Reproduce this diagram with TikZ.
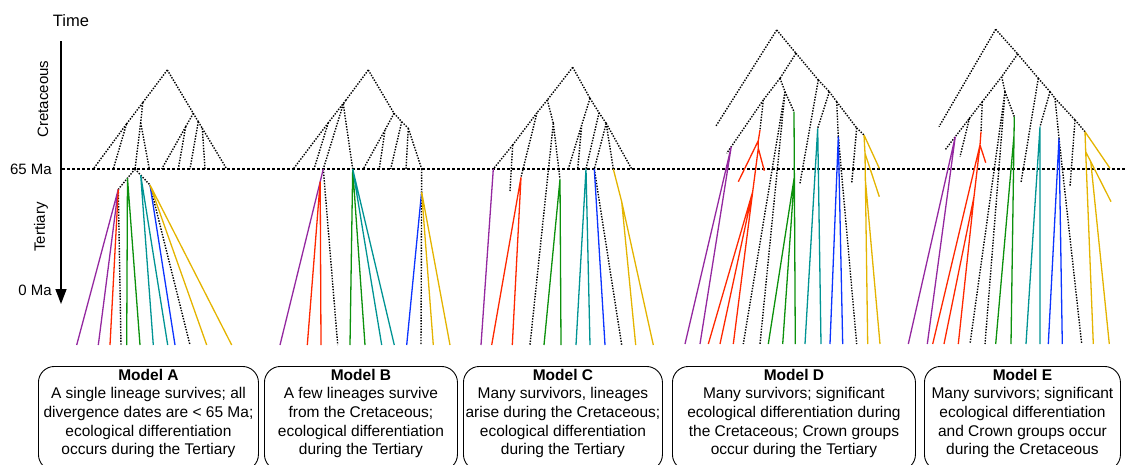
\documentclass[tikz,border=0pt]{standalone}
\usepackage{fontspec}
\setmainfont{Liberation Sans}
\usetikzlibrary{arrows.meta,calc}
\definecolor{cPur}{RGB}{148,40,160}
\definecolor{cRed}{RGB}{255,40,0}
\definecolor{cGrn}{RGB}{12,145,12}
\definecolor{cTea}{RGB}{0,148,148}
\definecolor{cBlu}{RGB}{12,52,255}
\definecolor{cYel}{RGB}{228,180,0}
\tikzset{
  lin/.style={line width=1.3pt},
  dotl/.style={line width=1.4pt, dash pattern=on 1.4pt off 1.4pt},
  pur/.style={lin, draw=cPur},
  red/.style={lin, draw=cRed},
  grn/.style={lin, draw=cGrn},
  tea/.style={lin, draw=cTea},
  blu/.style={lin, draw=cBlu},
  yel/.style={lin, draw=cYel},
  modelbox/.style={draw, line width=0.9pt, rounded corners=16pt, minimum width=#1,
    minimum height=104pt, anchor=north west, inner sep=0pt},
  modeltext/.style={align=center, font=\fontsize{15.5}{18.7}\selectfont, inner sep=0pt},
  axlabel/.style={font=\fontsize{15}{18}\selectfont, inner sep=0pt},
}
\newcommand{\pts}[1]{\foreach \n/\x/\y in {#1} {\coordinate (\n) at (\x,\y);}}
\begin{document}
\begin{tikzpicture}[x=1pt,y=-1pt]
\useasboundingbox (0,0) rectangle (1125,464);

% ---------- time axis ----------
\coordinate (axTop) at (61,41);
\coordinate (axBot) at (61,304);
\coordinate (lineL) at (62,169);
\coordinate (lineR) at (1125,169);
\draw[line width=1.5pt, -{Triangle[width=11pt,length=15pt]}] (axTop) -- (axBot);
\draw[line width=1.2pt, dash pattern=on 3pt off 2pt] (lineL) -- (lineR);
\node[axlabel, font=\fontsize{16.5}{19}\selectfont] (time) at (71,21) {Time};
\node[axlabel, rotate=90] (cret) at (43,99) {Cretaceous};
\node[axlabel, anchor=east] (ma65) at (52,169.5) {65 Ma};
\node[axlabel, rotate=90] (tert) at (41,227) {Tertiary};
\node[axlabel, anchor=east] (ma0) at (52,290) {0 Ma};

% ---------- Model A ----------
\pts{a0/167.3/70, a1/142.7/102.7, a2/193.3/113.3, a3/126.5/124, a4/140.7/122.7,
     a5/185.7/126.7, a6/198.3/121.7, a7/202.3/128.3,
     aL1/93.3/169, aL2/113.3/169, aS/135/169, aL4/149.3/169, aL5/161.7/169,
     aL6/178.3/169, aL7/190/169, aL8/205/169, aL9/226.7/169,
     aTL/118.3/189.3, aTR/150/185,
     aB1/76.7/345, aB2/98.3/345, aB3/110/345, aB4/121/345, aB5/126.7/345, aB6/140/345,
     aB7/153.3/345, aB8/167.7/345, aB9/175/345, aB10/190/345, aB11/206.7/345, aB12/231.7/345}
\coordinate (aG) at ($(aS)!0.45!(aTL)$);
\coordinate (aT) at ($(aS)!0.38!(aTR)$);
\draw[dotl] (a0)--(a1) (a0)--(a2) (a1)--(a3) (a3)--(aL1) (a3)--(aL2) (a1)--(a4)
  (a4)--(aS) (a4)--(aL4) (a2)--(a5) (a5)--(aL5) (a5)--(aL6) (a2)--(a6) (a6)--(aL7)
  (a6)--(a7) (a7)--(aL8) (a7)--(aL9)
  (aS)--(aTL) (aS)--(aTR) (aTL)--(aB4) (aTR)--(aB10);
\draw[pur] (aTL)--(aB1) (aTL)--(aB2);
\draw[red] (aTL)--(aB3);
\draw[grn] (aG)--(aB5) (aG)--(aB6);
\draw[tea] (aT)--(aB7) (aT)--(aB8);
\draw[blu] (aTR)--(aB9);
\draw[yel] (aTR)--(aB11) (aTR)--(aB12);

% ---------- Model B ----------
\pts{b0/368.3/70, b1/346/100, b2/394/113.3, b3/328.3/122.7, b4/343.3/104,
     b5/385/130, b6/401.7/121.7, b7/408.3/128.3,
     bL1/293.3/169, bL2/314/169, bS1/323.3/169, bS2/352.7/169, bL5/363.3/169,
     bL6/379.3/169, bL7/390.7/169, bL8/406/169, bS3/421.7/169,
     bB1/280/345, bB2/307.3/345, bB3/321/345, bB4/337.7/345, bB5/350/345, bB6/365/345,
     bB7/381.7/345, bB8/394.3/345, bB9/406.7/345, bB10/421/345, bB11/433.3/345, bB12/450/345}
\coordinate (bR) at ($(bS1)!0.072!(bB1)$);
\coordinate (bN) at ($(bS3)!0.13!(bB10)$);
\draw[dotl] (b0)--(b1) (b0)--(b2) (b1)--(b3) (b3)--(bL1) (b3)--(bL2) (b1)--(b4)
  (b4)--(bS1) (b4)--(bS2) (b2)--(b5) (b5)--(bL5) (b5)--(bL6) (b2)--(b6) (b6)--(bL7)
  (b6)--(b7) (b7)--(bL8) (b7)--(bS3)
  (bS1)--(bB4) (bS3)--(bB10);
\draw[pur] (bS1)--(bB1);
\draw[red] (bR)--(bB2) (bR)--(bB3);
\draw[grn] (bS2)--(bB5) (bS2)--(bB6);
\draw[tea] (bS2)--(bB7) (bS2)--(bB8);
\draw[blu] (bN)--(bB9);
\draw[yel] (bN)--(bB11) (bN)--(bB12);

% ---------- Model C ----------
\pts{c0/572.7/67.3, c1/547.3/100, c3/537/112.7, c4/512.7/145, cN/553.3/123.3,
     c2/590/98.3, c5/581.7/125, c6/599/112.7, c7/606.2/123.3,
     cS1/493.3/169, cL2/568.3/169, cL3/577.7/169, cS4/586/169, cS5/594.3/169,
     cS6/613.3/169, cL7/631.7/169,
     cX/510/191, cS2/521/177.3, cS3/560/179.3, cY/621.7/201.7,
     cB1/481/345, cB2/491.7/345, cB3/512.3/345, cB4/530/345, cB5/544/345, cB6/561/345,
     cB7/576/345, cB8/590/345, cB9/605/345, cB10/621.7/345, cB11/635.7/345, cB12/653.3/345}
\draw[dotl] (c0)--(c1) (c1)--(c3) (c3)--(c4) (c4)--(cS1) (c4)--(cX) (c3)--(cS2)
  (c1)--(cN) (cN)--(cS3) (cN)--(cB4)
  (c0)--(c2) (c2)--(c5) (c5)--(cL2) (c5)--(cL3) (c2)--(c6) (c6)--(cS4) (c6)--(c7)
  (c7)--(cS5) (c7)--(cS6) (c7)--(cL7) (cS5)--(cB10);
\draw[pur] (cS1)--(cB1);
\draw[red] (cS2)--(cB2) (cS2)--(cB3);
\draw[grn] (cS3)--(cB5) (cS3)--(cB6);
\draw[tea] (cS4)--(cB7) (cS4)--(cB8);
\draw[blu] (cS5)--(cB9);
\draw[yel] (cS6)--(cY) (cY)--(cB11) (cY)--(cB12);

% ---------- Model D ----------
\pts{d0/776.7/30, dL/716/126, d1/796/53.3, d2/780/78.3, dP/763.3/100, dG/785/91.7,
     dQ1/818.3/80, dQ2/829.3/91.7, dQ3/836.7/101.7, dQ4/856.7/128,
     dX1/726.7/153.3, dR/760/130, dGr/794/111.7, dX2/800/183.3, dTe/817.7/128.3,
     dBl/838.3/136.7, dX3/851.7/183.3, dYe/864/135,
     dR1/758.3/140.7, dRa/738.3/181.7, dR2/758.3/148.3, dRb/764.3/170.7, dR3/752.7/191.7,
     dYa/879.3/168.3, dY1/865/153.3, dYb/879.3/196.7,
     dB1/685/344, dB2/700/344, dB3/708.3/344, dB4/720/344, dB5/733.3/344, dB6/743.3/344,
     dB7/760/344, dB8/768.3/344, dB9/782.7/344, dB10/795.3/344, dB11/805/344,
     dB12/821/344, dB13/830/344, dB14/842.7/344, dB15/856.7/344, dB16/867.7/344, dB17/880/344}
\coordinate (dPu) at ($(dP)!0.876!(dX1)$);
\coordinate (dGn) at ($(dGr)!0.28!(dB10)$);
\coordinate (dY2) at ($(dY1)!0.14!(dB16)$);
\draw[dotl] (d0)--(dL) (d0)--(d1) (d1)--(d2) (d2)--(dP) (d2)--(dG) (dP)--(dX1) (dP)--(dR)
  (dG)--(dGr) (dG)--(dB6) (dG)--(dB7) (d1)--(dQ1) (dQ1)--(dX2) (dQ1)--(dQ2)
  (dQ2)--(dTe) (dQ2)--(dQ3) (dQ3)--(dBl) (dQ3)--(dQ4) (dQ4)--(dX3) (dQ4)--(dYe)
  (dBl)--(dB15);
\draw[pur] (dPu)--(dB1) (dPu)--(dB2);
\draw[red] (dR)--(dR1) (dR1)--(dRa) (dR1)--(dR2) (dR2)--(dRb) (dR2)--(dR3)
  (dR3)--(dB3) (dR3)--(dB4) (dR3)--(dB5);
\draw[grn] (dGr)--(dB10) (dGn)--(dB8) (dGn)--(dB9);
\draw[tea] (dTe)--(dB11) (dTe)--(dB12);
\draw[blu] (dBl)--(dB13) (dBl)--(dB14);
\draw[yel] (dYe)--(dYa) (dYe)--(dY1) (dY1)--(dYb) (dY1)--(dB16) (dY2)--(dB17);

% ---------- Model E ----------
\pts{e0/995.7/29.3, eL/939/126.7, e1/1017.7/54, e2/1001.7/76.7, e3/982.3/101.7,
     eX1/945/150, eX2/960/156.7, eR/981/131.7, e4/1005/91.7, eGr/1014.3/116.7,
     eD1/1038.3/78.3, eX3/1021/182.7, eD2/1050/91.7, eTe/1040/126.7, eD3/1055/98.3,
     eBl/1059/138.3, eD4/1075/120, eX4/1070/186.7, eYe/1085/131.7,
     eRn/980/145, eRa/985.7/162.7, eRm/974/196.7,
     eYa/1110/168.3, eY1/1085.7/151.7, eYb/1111/201.7,
     eB1/908.3/344, eB2/927.3/344, eB3/932.7/344, eB4/944/344, eB5/958.3/344,
     eB6/970/344, eB7/985/344, eB8/995.7/344, eB9/1011/344, eB10/1026/344,
     eB11/1040/344, eB12/1048.3/344, eB13/1062.3/344, eB14/1081.7/344,
     eB15/1093.3/344, eB16/1109.3/344}
\coordinate (ePu) at ($(e3)!0.725!(eX1)$);
\coordinate (eN1) at ($(e3)!0.345!(eX1)$);
\coordinate (eGn) at ($(eGr)!0.08!(eB9)$);
\coordinate (eY2) at ($(eY1)!0.2!(eYb)$);
\draw[dotl] (e0)--(eL) (e0)--(e1) (e1)--(e2) (e2)--(e3) (e3)--(eX1) (eN1)--(eX2)
  (e3)--(eR) (e2)--(e4) (e4)--(eGr) (e4)--(eB6) (e4)--(eB7) (e1)--(eD1) (eD1)--(eX3)
  (eD1)--(eD2) (eD2)--(eTe) (eD2)--(eD3) (eD3)--(eBl) (eBl)--(eB14) (eD3)--(eD4)
  (eD4)--(eX4) (eD4)--(eYe);
\draw[pur] (ePu)--(eB1) (ePu)--(eB2);
\draw[red] (eR)--(eRn) (eRn)--(eRa) (eRn)--(eB3) (eRn)--(eRm) (eRm)--(eB4) (eRm)--(eB5);
\draw[grn] (eGr)--(eB9) (eGn)--(eB8);
\draw[tea] (eTe)--(eB10) (eTe)--(eB11);
\draw[blu] (eBl)--(eB12) (eBl)--(eB13);
\draw[yel] (eYe)--(eYa) (eYe)--(eY1) (eY1)--(eYb) (eY1)--(eB15) (eY2)--(eB16);

% ---------- model descriptions ----------
\node[modelbox=220pt] (boxA) at (38,366) {};
\node[modelbox=193pt] (boxB) at (264,366) {};
\node[modelbox=199pt] (boxC) at (463,366) {};
\node[modelbox=243pt] (boxD) at (672,366) {};
\node[modelbox=196pt] (boxE) at (924,366) {};
\node[modeltext] (txtA) at ($(boxA.north)+(0,47.5)$) {\textbf{Model A}\\A single lineage survives; all\\divergence dates are < 65 Ma;\\ecological differentiation\\occurs during the Tertiary};
\node[modeltext] (txtB) at ($(boxB.north)+(0,47.5)$) {\textbf{Model B}\\A few lineages survive\\from the Cretaceous;\\ecological differentiation\\during the Tertiary};
\node[modeltext] (txtC) at ($(boxC.north)+(0,47.5)$) {\textbf{Model C}\\Many survivors, lineages\\arise during the Cretaceous;\\ecological differentiation\\during the Tertiary};
\node[modeltext] (txtD) at ($(boxD.north)+(0,47.5)$) {\textbf{Model D}\\Many survivors; significant\\ecological differentiation during\\the Cretaceous; Crown groups\\occur during the Tertiary};
\node[modeltext] (txtE) at ($(boxE.north)+(0,47.5)$) {\textbf{Model E}\\Many survivors; significant\\ecological differentiation\\and Crown groups occur\\during the Cretaceous};
\end{tikzpicture}
\end{document}
